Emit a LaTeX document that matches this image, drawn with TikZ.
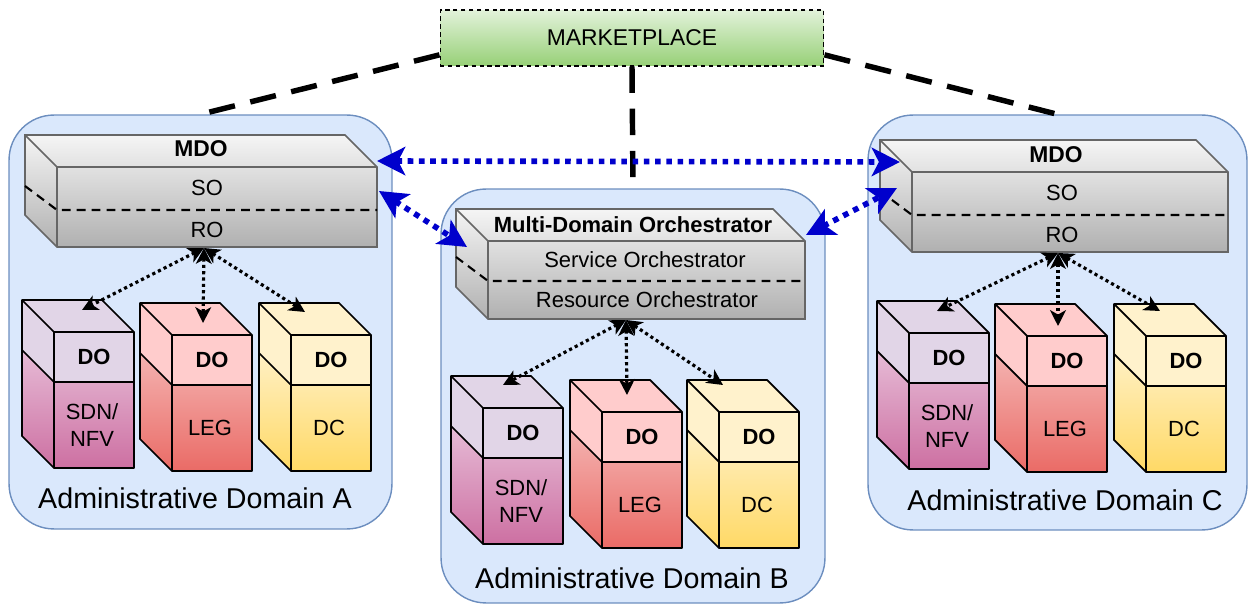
\documentclass[tikz,border=0pt]{standalone}
\usepackage{fontspec}
\setmainfont{Liberation Sans}
\usetikzlibrary{shapes,arrows.meta}

\definecolor{domfill}{HTML}{DAE8FC}
\definecolor{domline}{HTML}{6C8EBF}
\definecolor{orchline}{HTML}{666666}
\definecolor{orchtop}{HTML}{F5F5F5}
\definecolor{orchbot}{HTML}{B0B0B0}
\definecolor{mkttop}{HTML}{E2F2DA}
\definecolor{mktbot}{HTML}{97D077}
\definecolor{linkblue}{HTML}{0000CC}
\definecolor{purtop}{HTML}{E1D5E7}
\definecolor{purA}{HTML}{E6BBD6}
\definecolor{purB}{HTML}{CD70A2}
\definecolor{redtop}{HTML}{FFCCCC}
\definecolor{redA}{HTML}{F4B3B1}
\definecolor{redB}{HTML}{EA6B66}
\definecolor{yeltop}{HTML}{FFF2CC}
\definecolor{yelA}{HTML}{FFF0C4}
\definecolor{yelB}{HTML}{FFD966}

\tikzset{
  domainbox/.style={draw=domline, fill=domfill, line width=0.8pt, rounded corners=0.9cm},
  domlbl/.style={font=\fontsize{16.3}{19}\selectfont, inner sep=0pt},
  lbl/.style={font=\fontsize{12.5}{15}\selectfont, inner sep=0pt},
  boldlbl/.style={font=\fontsize{12.5}{15}\selectfont\bfseries, inner sep=0pt},
  linkdash/.style={line width=3.1pt, dash pattern=on 15pt off 9pt},
  divline/.style={line width=1.2pt, dash pattern=on 5pt off 3.5pt},
  mdolink/.style={<->, draw=linkblue, line width=3.2pt, dash pattern=on 3.2pt off 3.2pt,
    >={Stealth[length=16pt, width=16pt, inset=4pt]}},
  dolink/.style={<->, line width=1.8pt, dash pattern=on 1.8pt off 1.8pt,
    >={Stealth[length=9pt, width=9pt, inset=2.5pt]}}
}

% orchestrator box: x, y (front top left), width, height, divider
\newcommand{\orchcube}[5]{%
  \draw[orchline, line width=0.9pt, top color=orchtop, bottom color=orchbot]
    (#1-32,#2-32) -- (#1+#3-32,#2-32) -- (#1+#3,#2) -- (#1+#3,#2+#4) -- (#1,#2+#4) -- (#1-32,#2+#4-32) -- cycle;
  \draw[orchline, line width=0.9pt] (#1-32,#2-32) -- (#1,#2) -- (#1+#3,#2) (#1,#2) -- (#1,#2+#4);
  \draw[divline] (#1-32,#2+#5-24) -- (#1,#2+#5) -- (#1+#3,#2+#5);
}

% domain orchestrator box: x, y, top colour, gradient top, gradient bottom, label, name
\newcommand{\docube}[7]{%
  \fill[#3] (#1-32,#2-32) -- (#1+48,#2-32) -- (#1+80,#2) -- (#1+80,#2+50) -- (#1,#2+50) -- (#1-32,#2+18) -- cycle;
  \shade[top color=#4, bottom color=#5] (#1-32,#2+18) -- (#1,#2+50) -- (#1+80,#2+50) -- (#1+80,#2+136) -- (#1,#2+136) -- (#1-32,#2+104) -- cycle;
  \draw[line width=1pt, line join=round] (#1-32,#2-32) -- (#1+48,#2-32) -- (#1+80,#2) -- (#1+80,#2+136) -- (#1,#2+136) -- (#1-32,#2+104) -- cycle
    (#1-32,#2-32) -- (#1,#2) -- (#1+80,#2) (#1,#2) -- (#1,#2+136)
    (#1-32,#2+18) -- (#1,#2+50) -- (#1+80,#2+50);
  \node[boldlbl] (#7-do) at (#1+40,#2+25) {DO};
  \node[lbl, align=center] (#7-res) at (#1+38,#2+93) {#6};
}

\begin{document}
\begin{tikzpicture}[x=0.02cm, y=-0.02cm]
\useasboundingbox (0,0) rectangle (1248,604);

% domains
\node[domainbox, minimum width=7.66cm, minimum height=8.28cm] (domA) at (200.5,322) {};
\node[domainbox, minimum width=7.68cm, minimum height=8.28cm] (domB) at (633,396) {};
\node[domainbox, minimum width=7.58cm, minimum height=8.3cm] (domC) at (1057.5,322.5) {};

\node[draw, line width=0.6pt, dash pattern=on 2.5pt off 2pt, top color=mkttop, bottom color=mktbot,
  minimum width=7.68cm, minimum height=1.12cm, font=\fontsize{13}{15}\selectfont] (market) at (632,38) {MARKETPLACE};

% links to the marketplace
\draw[linkdash] (market.185) -- (domA.north);
\draw[linkdash] (market.355) -- (domC.north);
\draw[linkdash] (market.south) -- (domB.north);

% orchestrators
\orchcube{57}{167}{320}{80}{43}
\orchcube{488}{241}{317}{78}{40}
\orchcube{912}{172}{316}{80}{43}

\node[lbl, font=\fontsize{13}{15}\selectfont\bfseries] (mdoA) at (201,149) {MDO};
\node[lbl] (soA) at (207,188) {SO};
\node[lbl] (roA-t) at (207,230) {RO};

\node[boldlbl] (mdoB) at (633,225) {Multi-Domain Orchestrator};
\node[lbl] (soB) at (645,260) {Service Orchestrator};
\node[lbl] (roB-t) at (647,300) {Resource Orchestrator};

\node[lbl, font=\fontsize{13}{15}\selectfont\bfseries] (mdoC) at (1056,155) {MDO};
\node[lbl] (soC) at (1062,193) {SO};
\node[lbl] (roC-t) at (1062,235) {RO};

% domain orchestrators
\docube{54}{332}{purtop}{purA}{purB}{SDN/\\NFV}{sdnA}
\docube{172}{335}{redtop}{redA}{redB}{LEG}{legA}
\docube{291}{335}{yeltop}{yelA}{yelB}{DC}{dcA}

\docube{483}{408}{purtop}{purA}{purB}{SDN/\\NFV}{sdnB}
\docube{602}{412}{redtop}{redA}{redB}{LEG}{legB}
\docube{719}{412}{yeltop}{yelA}{yelB}{DC}{dcB}

\docube{909}{333}{purtop}{purA}{purB}{SDN/\\NFV}{sdnC}
\docube{1027}{336}{redtop}{redA}{redB}{LEG}{legC}
\docube{1146}{336}{yeltop}{yelA}{yelB}{DC}{dcC}

\node[domlbl] (lblA) at (195,498) {Administrative Domain A};
\node[domlbl] (lblB) at (632,578) {Administrative Domain B};
\node[domlbl] (lblC) at (1065,500) {Administrative Domain C};

% arrow ends
\coordinate (roA) at (204,248);
\coordinate (tA1) at (82,310);
\coordinate (tA2) at (203,323);
\coordinate (tA3) at (305,312);
\coordinate (roB) at (626,320);
\coordinate (tB1) at (503,385);
\coordinate (tB2) at (627,395);
\coordinate (tB3) at (723,385);
\coordinate (roC) at (1058,253);
\coordinate (tC1) at (937,311);
\coordinate (tC2) at (1058,326);
\coordinate (tC3) at (1160,311);

\coordinate (mdoA-e1) at (377,161);
\coordinate (mdoA-e2) at (379,191);
\coordinate (mdoB-w) at (467,247);
\coordinate (mdoB-e) at (806,235);
\coordinate (mdoC-w1) at (900,162);
\coordinate (mdoC-w2) at (897,188);

% arrows
\draw[dolink] (roA) -- (tA1);
\draw[dolink] (roA) -- (tA2);
\draw[dolink] (roA) -- (tA3);
\draw[dolink] (roB) -- (tB1);
\draw[dolink] (roB) -- (tB2);
\draw[dolink] (roB) -- (tB3);
\draw[dolink] (roC) -- (tC1);
\draw[dolink] (roC) -- (tC2);
\draw[dolink] (roC) -- (tC3);

\draw[mdolink] (mdoA-e1) -- (mdoC-w1);
\draw[mdolink] (mdoA-e2) -- (mdoB-w);
\draw[mdolink] (mdoB-e) -- (mdoC-w2);

\end{tikzpicture}
\end{document}
